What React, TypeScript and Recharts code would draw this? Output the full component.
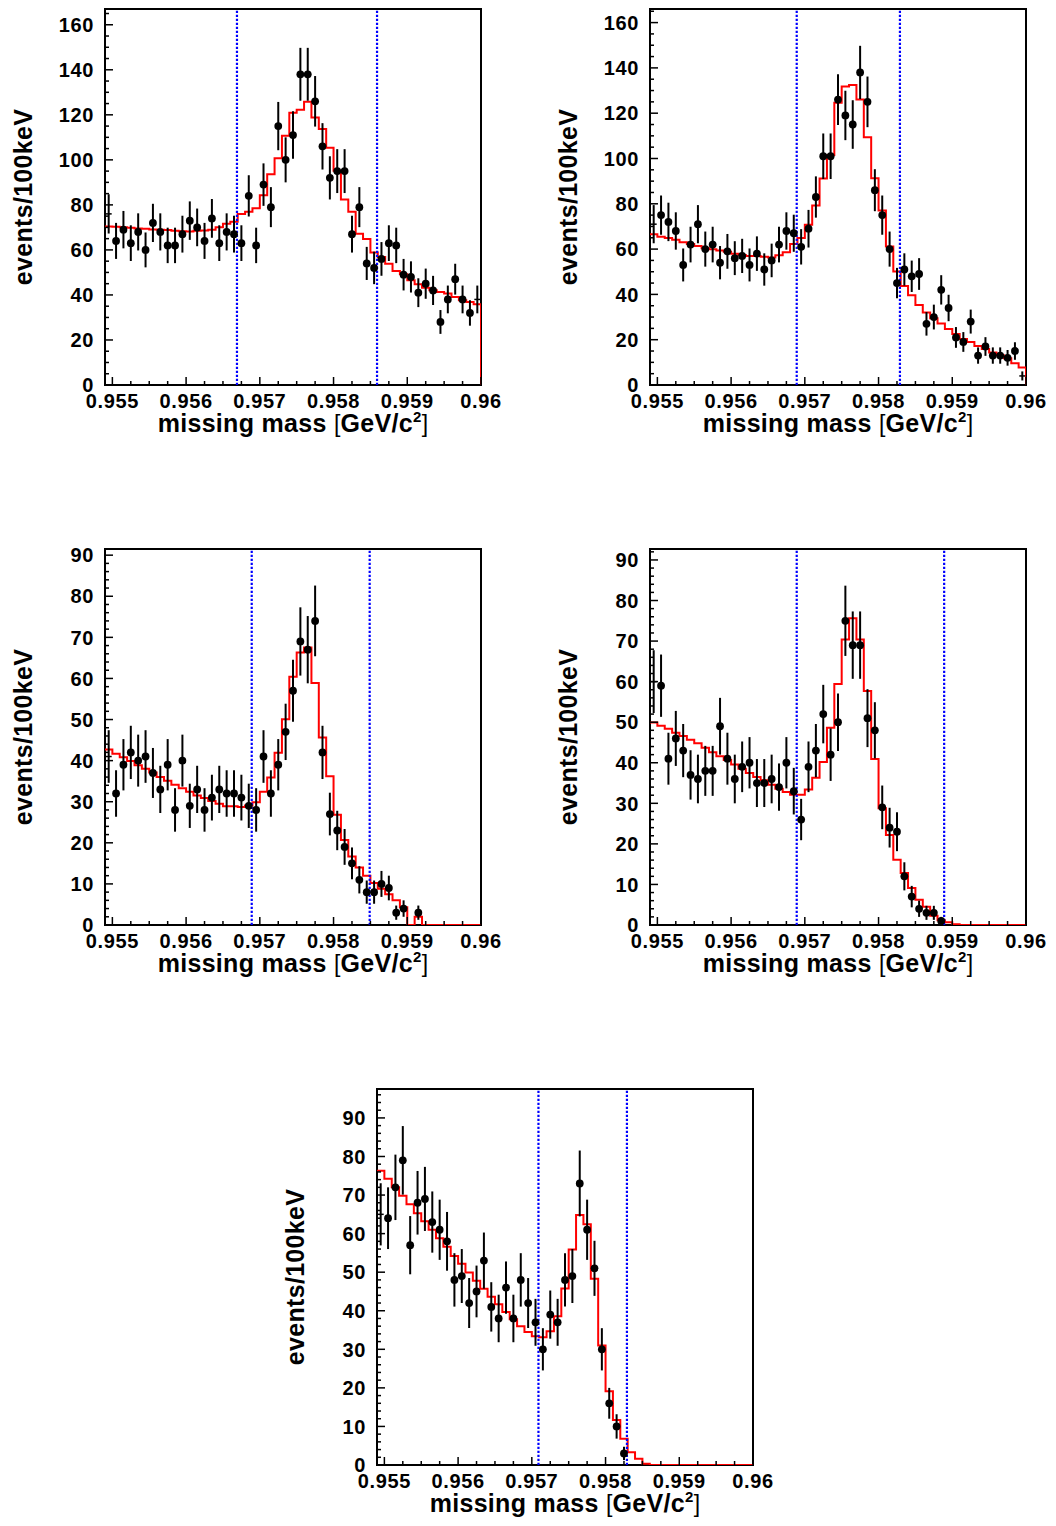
import React from 'react';
import {
  ComposedChart,
  Line,
  Scatter,
  ErrorBar,
  XAxis,
  YAxis,
  ReferenceLine,
  ReferenceArea,
} from 'recharts';

// binning of every histogram: 100 keV bins from 0.9549 to 0.96 GeV
const BIN_LOW = 0.9549;
const BIN_WIDTH = 0.0001;
const X_MAX = 0.96;

const xMajorTicks = [0.955, 0.956, 0.957, 0.958, 0.959, 0.96];
const yMajorTicksWide = [0, 20, 40, 60, 80, 100, 120, 140, 160];
const yMajorTicksNarrow = [0, 10, 20, 30, 40, 50, 60, 70, 80, 90];

// panel 1 (top left)
const p1Counts = [76, 64, 69, 63, 68, 60, 72, 68, 62, 62, 67, 73, 70, 64, 74, 63, 68, 67, 63, 84, 62, 89, 79, 115, 100, 111, 138, 138, 126, 106, 92, 95, 95, 67, 79, 54, 52, 56, 63, 62, 49, 48, 41, 45, 42, 28, 38, 47, 38, 32, 38];
const p1Fit = [70.4, 70.3, 70.1, 69.8, 69.5, 69.4, 69.1, 68.9, 68.8, 68.5, 68.3, 68.2, 68.5, 68.6, 68.9, 70.1, 71.6, 72.5, 76, 77, 78.5, 84.3, 93.6, 100.7, 110.7, 120.9, 122.2, 125.8, 118.8, 113.7, 105.4, 95.2, 82.4, 76.9, 67.2, 64.8, 58.8, 56.8, 53.9, 50.6, 49.2, 46.5, 44.7, 43.2, 42.1, 41.3, 40.6, 39.1, 37.6, 36.9, 35.9];
const p1Cuts = [0.95669, 0.95859];

// panel 2 (top right)
const p2Counts = [71, 75, 72, 68, 53, 62, 71, 60, 62, 54, 59, 56, 57, 53, 58, 51, 55, 62, 68, 67, 61, 69, 83, 101, 101, 126, 119, 115, 138, 125, 86, 75, 60, 45, 51, 48, 49, 27, 30, 42, 34, 21, 19, 28, 13, 17, 13, 13, 12, 15, 4];
const p2Fit = [66.6, 65.5, 64.9, 64.1, 63, 62.2, 61.4, 60.4, 59.9, 59.4, 58.8, 57.9, 57.4, 57, 57, 56.6, 56.3, 57.3, 58.6, 62.2, 64.9, 70.7, 79.2, 91.2, 101.5, 124.6, 131.8, 132.5, 126.1, 109.4, 91.3, 77, 61.1, 50.1, 43.7, 39.6, 35.3, 32, 29.5, 27.2, 24.7, 22.5, 20.3, 19, 17.2, 15.9, 14.4, 13.1, 11.8, 9.6, 7.7];
const p2Cuts = [0.95689, 0.95829];

// panel 3 (middle left)
const p3Counts = [41, 32, 39, 42, 40, 41, 37, 33, 39, 28, 40, 29, 33, 28, 31, 33, 32, 32, 31, 29, 28, 41, 32, 39, 47, 57, 69, 67, 74, 42, 27, 23, 19, 15, 11, 8, 8, 10, 9, 3, 4, null, 3, null, null, null, null, null, null, null, null];
const p3Fit = [42.7, 41.7, 40.8, 39.9, 38.9, 38, 37.1, 36, 35.1, 34.1, 33.3, 32.4, 31.5, 30.9, 30.2, 29.5, 28.9, 28.9, 28.7, 29.1, 29.9, 32.4, 35.9, 41.9, 50.1, 60.4, 66.3, 67.5, 58.9, 45.6, 36.2, 26.8, 20.7, 16.7, 14, 12, 10.2, 8.8, 7.5, 6, 4.3, 0, 2, 0, 0, 0, 0, 0, 0, 0, 0];
const p3Cuts = [0.95689, 0.95849];

// panel 4 (middle right)
const p4Counts = [60, 59, 41, 46, 43, 37, 36, 38, 38, 49, 41, 36, 39, 40, 35, 35, 36, 34, 40, 33, 26, 39, 43, 52, 42, 50, 75, 69, 69, 51, 48, 29, 24, 23, 12, 7, 4, 3, 3, 1, null, null, null, null, null, null, null, null, null, null, null];
const p4Fit = [49.9, 49.1, 48.4, 47.4, 46.6, 45.7, 44.8, 43.7, 42.6, 41.6, 40.7, 39.6, 38.5, 37.5, 36.5, 35.7, 34.6, 33.6, 32.8, 32.1, 32.1, 33.4, 36.3, 40.2, 48.6, 59.4, 70.4, 75.6, 70.4, 57.7, 40.9, 28.8, 22.2, 16.1, 12.8, 9.1, 6.2, 4.5, 2.3, 1.2, 0.7, 0.2, 0, 0, 0, 0, 0, 0, 0, 0, 0];
const p4Cuts = [0.95689, 0.95889];

// panel 5 (bottom)
const p5Counts = [65, 64, 72, 79, 57, 68, 69, 63, 61, 58, 48, 49, 42, 45, 53, 41, 38, 46, 38, 48, 42, 37, 30, 39, 37, 48, 49, 73, 61, 51, 30, 16, 10, 3, null, null, null, null, null, null, null, null, null, null, null, null, null, null, null, null, null];
const p5Fit = [76.3, 74.2, 72, 69.8, 67.6, 65.3, 63.2, 61, 58.8, 56.6, 54.2, 52.2, 49.9, 47.8, 45.7, 43.6, 41.7, 39.7, 37.8, 36, 34.5, 33.4, 33.1, 34.7, 38.6, 45.8, 55.9, 64.8, 62.4, 48.3, 31, 19.1, 11.7, 6.8, 3.3, 1.6, 0.3, 0, 0, 0, 0, 0, 0, 0, 0, 0, 0, 0, 0, 0, 0];
const p5Cuts = [0.95709, 0.95829];

const FONT = '"Liberation Sans", Arial, Helvetica, sans-serif';
const tickStyle = { fontFamily: FONT, fontWeight: 700, fontSize: 20, letterSpacing: 0.6, fill: '#000' };
const titleStyle = { fontFamily: FONT, fontWeight: 700, fontSize: 25, letterSpacing: 0.3, fill: '#000' };

const CHART_W = 510;
const CHART_H = 450;
const AXIS_W = 105;
const AXIS_H = 65;

type Panel = {
  counts: (number | null)[];
  fit: number[];
  cuts: number[];
  yMax: number;
  yMajor: number[];
  yMinorStep: number;
  left: number;
  top: number;
};

const panels: Panel[] = [
  { counts: p1Counts, fit: p1Fit, cuts: p1Cuts, yMax: 167, yMajor: yMajorTicksWide, yMinorStep: 5, left: 0, top: 0 },
  { counts: p2Counts, fit: p2Fit, cuts: p2Cuts, yMax: 166, yMajor: yMajorTicksWide, yMinorStep: 5, left: 545, top: 0 },
  { counts: p3Counts, fit: p3Fit, cuts: p3Cuts, yMax: 91.5, yMajor: yMajorTicksNarrow, yMinorStep: 2, left: 0, top: 540 },
  { counts: p4Counts, fit: p4Fit, cuts: p4Cuts, yMax: 92.7, yMajor: yMajorTicksNarrow, yMinorStep: 2, left: 545, top: 540 },
  { counts: p5Counts, fit: p5Fit, cuts: p5Cuts, yMax: 97.5, yMajor: yMajorTicksNarrow, yMinorStep: 2, left: 272, top: 1080 },
];

// 4 minor divisions between x labels
const xTicks: number[] = [];
xMajorTicks.forEach((m, i) => {
  xTicks.push(m);
  if (i < xMajorTicks.length - 1) {
    const step = (xMajorTicks[i + 1] - m) / 4;
    for (let k = 1; k < 4; k++) xTicks.push(m + k * step);
  }
});

function yTicksFor(p: Panel) {
  const t: number[] = [];
  for (let v = 0; v <= p.yMax; v += p.yMinorStep) t.push(v);
  return t;
}

// data points at bin centres, poisson errors
function toPoints(counts: (number | null)[]) {
  const out: { x: number; y: number; err: number; edge: boolean }[] = [];
  counts.forEach((n, i) => {
    if (n == null) return;
    out.push({
      x: BIN_LOW + (i + 0.5) * BIN_WIDTH,
      y: n,
      err: Math.sqrt(n),
      edge: i === 0 || i === counts.length - 1,
    });
  });
  return out;
}

// histogram outline: step at each bin low edge, closed down to 0 at the end
function toSteps(fit: number[]) {
  const pts = fit.map((v, i) => ({ x: BIN_LOW + i * BIN_WIDTH, y: v }));
  pts.push({ x: X_MAX, y: fit[fit.length - 1] });
  pts.push({ x: X_MAX, y: 0 });
  return pts;
}

function XTick(props: any) {
  const { x, y, payload } = props;
  const v = payload.value;
  const major = xMajorTicks.some((m) => Math.abs(m - v) < 1e-9);
  return (
    <g>
      <line x1={x} x2={x} y1={y} y2={y - (major ? 8 : 4)} stroke="#000" strokeWidth={1.5} />
      {major && (
        <text x={x} y={y + 23} textAnchor="middle" style={tickStyle}>
          {String(v)}
        </text>
      )}
    </g>
  );
}

function YTick(props: any) {
  const { x, y, payload, majors } = props;
  const v = payload.value;
  const major = majors.includes(v);
  return (
    <g>
      <line x1={x} x2={x + (major ? 8 : 4)} y1={y} y2={y} stroke="#000" strokeWidth={1.5} />
      {major && (
        <text x={x - 11} y={y} dy="0.36em" textAnchor="end" style={tickStyle}>
          {v}
        </text>
      )}
    </g>
  );
}

function YTitle(props: any) {
  const { x, y, height } = props.viewBox;
  const bx = x + 32;
  const cy = y + height / 2;
  return (
    <text x={bx} y={cy} transform={`rotate(-90 ${bx} ${cy})`} textAnchor="middle" style={titleStyle}>
      events/100keV
    </text>
  );
}

function XTitle(props: any) {
  const { x, y, width } = props.viewBox;
  return (
    <text x={x + width / 2} y={y + 47} textAnchor="middle" style={titleStyle}>
      missing mass{' '}
      <tspan fontWeight={400} fontSize={23}>[</tspan>
      GeV/c
      <tspan dy={-10} fontSize={15}>2</tspan>
      <tspan dy={10} fontWeight={400} fontSize={23}>]</tspan>
    </text>
  );
}

function PointShape(props: any) {
  const { cx, cy, payload } = props;
  if (payload && payload.edge) {
    return <line x1={cx - 3} x2={cx + 3} y1={cy} y2={cy} stroke="#000" strokeWidth={1.5} />;
  }
  return <circle cx={cx} cy={cy} r={3.9} fill="#000" />;
}

function MassPanel({ p }: { p: Panel }) {
  return (
    <div style={{ position: 'absolute', left: p.left, top: p.top }}>
      <ComposedChart
        width={CHART_W}
        height={CHART_H}
        margin={{ top: 9, right: CHART_W - AXIS_W - 376, bottom: 0, left: 0 }}
      >
        <XAxis
          type="number"
          dataKey="x"
          domain={[BIN_LOW, X_MAX]}
          allowDataOverflow
          ticks={xTicks}
          interval={0}
          tickSize={0}
          tickMargin={0}
          axisLine={false}
          tickLine={false}
          height={AXIS_H}
          tick={<XTick />}
          label={<XTitle />}
        />
        <YAxis
          type="number"
          dataKey="y"
          domain={[0, p.yMax]}
          allowDataOverflow
          ticks={yTicksFor(p)}
          interval={0}
          tickSize={0}
          tickMargin={0}
          axisLine={false}
          tickLine={false}
          width={AXIS_W}
          tick={<YTick majors={p.yMajor} />}
          label={<YTitle />}
        />
        <ReferenceArea
          x1={BIN_LOW}
          x2={X_MAX}
          y1={0}
          y2={p.yMax}
          fill="none"
          fillOpacity={0}
          stroke="#000"
          strokeWidth={2}
          ifOverflow="visible"
        />
        <Line
          data={toSteps(p.fit)}
          dataKey="y"
          type="stepAfter"
          stroke="#ff0000"
          strokeWidth={2}
          dot={false}
          activeDot={false}
          isAnimationActive={false}
        />
        {p.cuts.map((c) => (
          <ReferenceLine key={c} x={c} stroke="#0000ff" strokeWidth={2.2} strokeDasharray="2.2 1.8" />
        ))}
        <Scatter data={toPoints(p.counts)} dataKey="y" fill="#000" shape={PointShape} isAnimationActive={false}>
          <ErrorBar dataKey="err" direction="y" width={0} stroke="#000" strokeWidth={2} isAnimationActive={false} />
        </Scatter>
      </ComposedChart>
    </div>
  );
}

export default function App() {
  return (
    <div style={{ position: 'absolute', left: 0, top: 0, width: 1056, height: 1526, background: '#fff' }}>
      {panels.map((p, i) => (
        <MassPanel key={i} p={p} />
      ))}
    </div>
  );
}
